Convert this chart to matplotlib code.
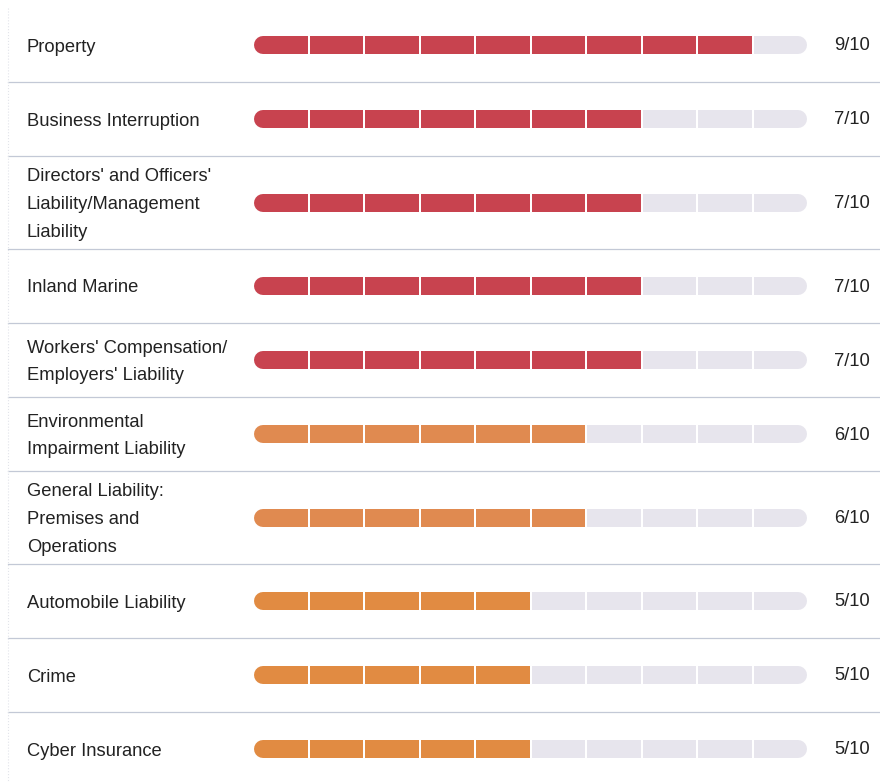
#!/usr/bin/env python3
# Coverage score bars: one row per line of insurance, 10 segments per bar.

import matplotlib
matplotlib.use("Agg")
import matplotlib.pyplot as plt
from matplotlib.patches import Rectangle

# ---------------------------------------------------------------------------
# Data
# ---------------------------------------------------------------------------

categories = [
    "Property",
    "Business Interruption",
    "Directors' and Officers'\nLiability/Management\nLiability",
    "Inland Marine",
    "Workers' Compensation/\nEmployers' Liability",
    "Environmental\nImpairment Liability",
    "General Liability:\nPremises and\nOperations",
    "Automobile Liability",
    "Crime",
    "Cyber Insurance",
]
scores = [9, 7, 7, 7, 7, 6, 6, 5, 5, 5]
max_score = 10

# ---------------------------------------------------------------------------
# Style
# ---------------------------------------------------------------------------

plt.rcParams["font.family"] = ["Liberation Sans", "DejaVu Sans"]

score_colors = {9: "#c8434f", 7: "#c8434f", 6: "#e08a50", 5: "#e18b42"}
empty_color = "#e7e5ed"
sep_color = "#c3c9d6"

W, H = 880, 782
top = 8
row_h_short = 74   # rows with 1-2 label lines
row_h_tall = 93    # rows with 3 label lines
bar_x0 = 254
seg_w = 55.5
gap = 2.0
bar_h = 18
cap_lw = bar_h * 72 / 100   # line width in points equal to bar height
text_dy = 2

fig = plt.figure(figsize=(W / 100, H / 100), dpi=100)
ax = fig.add_axes([0, 0, 1, 1])
ax.set_xlim(0, W)
ax.set_ylim(H, 0)
ax.axis("off")

y = top
for label, score in zip(categories, scores):
    n_lines = label.count("\n") + 1
    h = row_h_tall if n_lines >= 3 else row_h_short
    yc = y + h / 2
    fill = score_colors.get(score, "#c8434f")
    r = bar_h / 2

    for i in range(max_score):
        color = fill if i < score else empty_color
        x = bar_x0 + i * seg_w
        w = seg_w - gap
        if i == 0 or i == max_score - 1:
            # rounded stroke spanning the segment, squared on the inner side
            ax.plot([x + r, x + w - r], [yc, yc], color=color, lw=cap_lw,
                    solid_capstyle="round", zorder=3)
            sx = x + r if i == 0 else x
            ax.add_patch(Rectangle((sx, yc - r), w - r, bar_h,
                                   facecolor=color, edgecolor="none", zorder=4))
        else:
            ax.add_patch(Rectangle((x, yc - r), w, bar_h,
                                   facecolor=color, edgecolor="none", zorder=4))

    ax.text(27, yc + text_dy, label, fontsize=13.2, color="#222222",
            va="center", ha="left", linespacing=1.82)
    ax.text(870, yc + 1, "{}/{}".format(score, max_score), fontsize=13.2,
            color="#222222", va="center", ha="right")

    y += h
    if y < H - 5:
        ax.plot([8, W], [y, y], color=sep_color, lw=0.9, zorder=1)

ax.plot([8, 8], [8, H], color="#e2e4ea", lw=0.8, ls=":", zorder=1)

fig.savefig("out.png", dpi=100)
